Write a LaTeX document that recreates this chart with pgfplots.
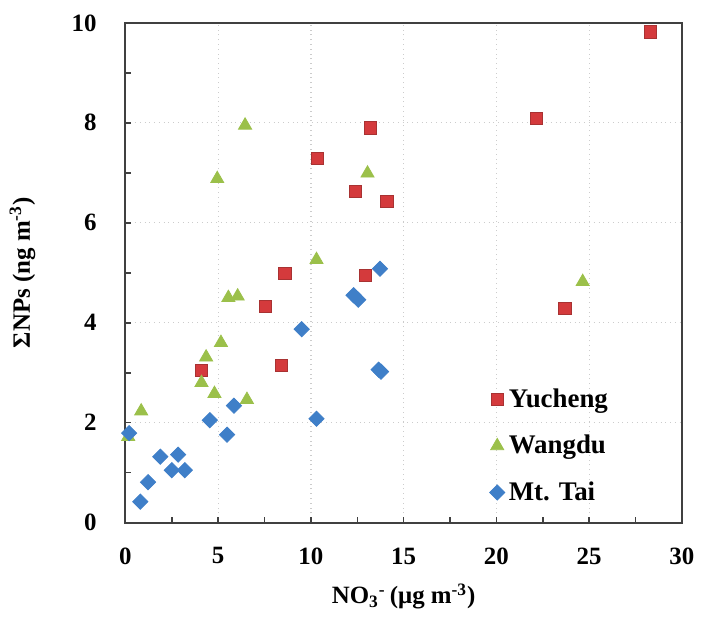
\documentclass[border=0pt]{standalone}
\usepackage{fontspec}
\setmainfont{Liberation Serif}
\usepackage{pgfplots}
\pgfplotsset{compat=1.18}

\definecolor{ycRed}{HTML}{D43A3C}
\definecolor{ycRedDark}{HTML}{A83232}
\definecolor{wdGreen}{HTML}{9BC04A}
\definecolor{mtBlue}{HTML}{3F7FC8}
\definecolor{axisDark}{HTML}{404040}

\newcommand{\chartfont}{\bfseries\fontsize{12.5}{15}\selectfont}
\newcommand{\legfont}{\bfseries\fontsize{13.5}{16}\selectfont}

\begin{document}
\begin{tikzpicture}
\begin{axis}[
  scale only axis,
  width=279.5pt, height=251pt,
  xmin=0, xmax=30, ymin=0, ymax=10,
  xtick={0,5,...,30}, ytick={0,2,...,10},
  minor x tick num=1, minor y tick num=1,
  tick align=inside, xtick pos=bottom, ytick pos=left,
  major tick length=3pt, minor tick length=3pt,
  tick style={axisDark, line width=0.8pt},
  axis line style={axisDark, line width=1pt},
  grid=major, grid style={dotted, gray!40, line width=0.6pt},
  /pgf/number format/assume math mode=true,
  every tick label/.append style={font=\chartfont},
  yticklabel style={xshift=-11pt},
  xticklabel style={yshift=-9pt},
  label style={font=\chartfont},
  xlabel={NO\textsubscript{3}\textsuperscript{-}\,(μg m\textsuperscript{-3})},
  ylabel={ΣNPs (ng m\textsuperscript{-3})},
  xlabel style={at={(axis description cs:0.5,-0.148)}, anchor=center},
  ylabel style={at={(axis description cs:-0.185,0.5)}, anchor=center},
  legend style={draw=none, fill=none, font=\legfont,
    at={(axis description cs:0.643,0.285)}, anchor=north west,
    row sep=8.5pt},
  legend cell align=left,
  clip=false,
]
% Yucheng
\addplot[only marks, mark=square*, mark size=3.1pt,
  mark options={fill=ycRed, draw=ycRedDark, line width=0.5pt}] coordinates {
  (28.3,9.82) (22.15,8.09) (13.2,7.9) (10.35,7.29) (12.4,6.63)
  (14.1,6.43) (8.6,4.98) (12.95,4.94) (7.55,4.32) (23.7,4.28)
  (4.1,3.05) (8.4,3.15)
};
\addlegendentry{Yucheng}
% Wangdu
\addplot[only marks, mark=triangle*, mark size=3.8pt,
  mark options={fill=wdGreen, draw=wdGreen}] coordinates {
  (6.45,7.95) (4.95,6.88) (13.05,6.99) (10.3,5.26) (24.65,4.82)
  (5.55,4.5) (6.05,4.53) (5.15,3.6) (4.35,3.31) (4.1,2.8)
  (4.8,2.58) (6.55,2.46) (0.85,2.23) (0.15,1.72)
};
\addlegendentry{Wangdu}
% Mt. Tai
\addplot[only marks, mark=square*, mark size=2.7pt,
  mark options={rotate=45, fill=mtBlue, draw=mtBlue}] coordinates {
  (13.72,5.08) (12.3,4.55) (12.55,4.46) (9.5,3.87) (13.65,3.06)
  (13.78,3.02) (10.3,2.08) (5.85,2.34) (4.55,2.05) (5.48,1.76)
  (0.2,1.79) (1.88,1.32) (2.84,1.36) (2.5,1.05) (3.2,1.05)
  (1.22,0.81) (0.8,0.42)
};
\addlegendentry{Mt. Tai}
\path (rel axis cs:-0.2254,-0.1733) rectangle (rel axis cs:1.0286,1.0458);
\end{axis}
\end{tikzpicture}
\end{document}
